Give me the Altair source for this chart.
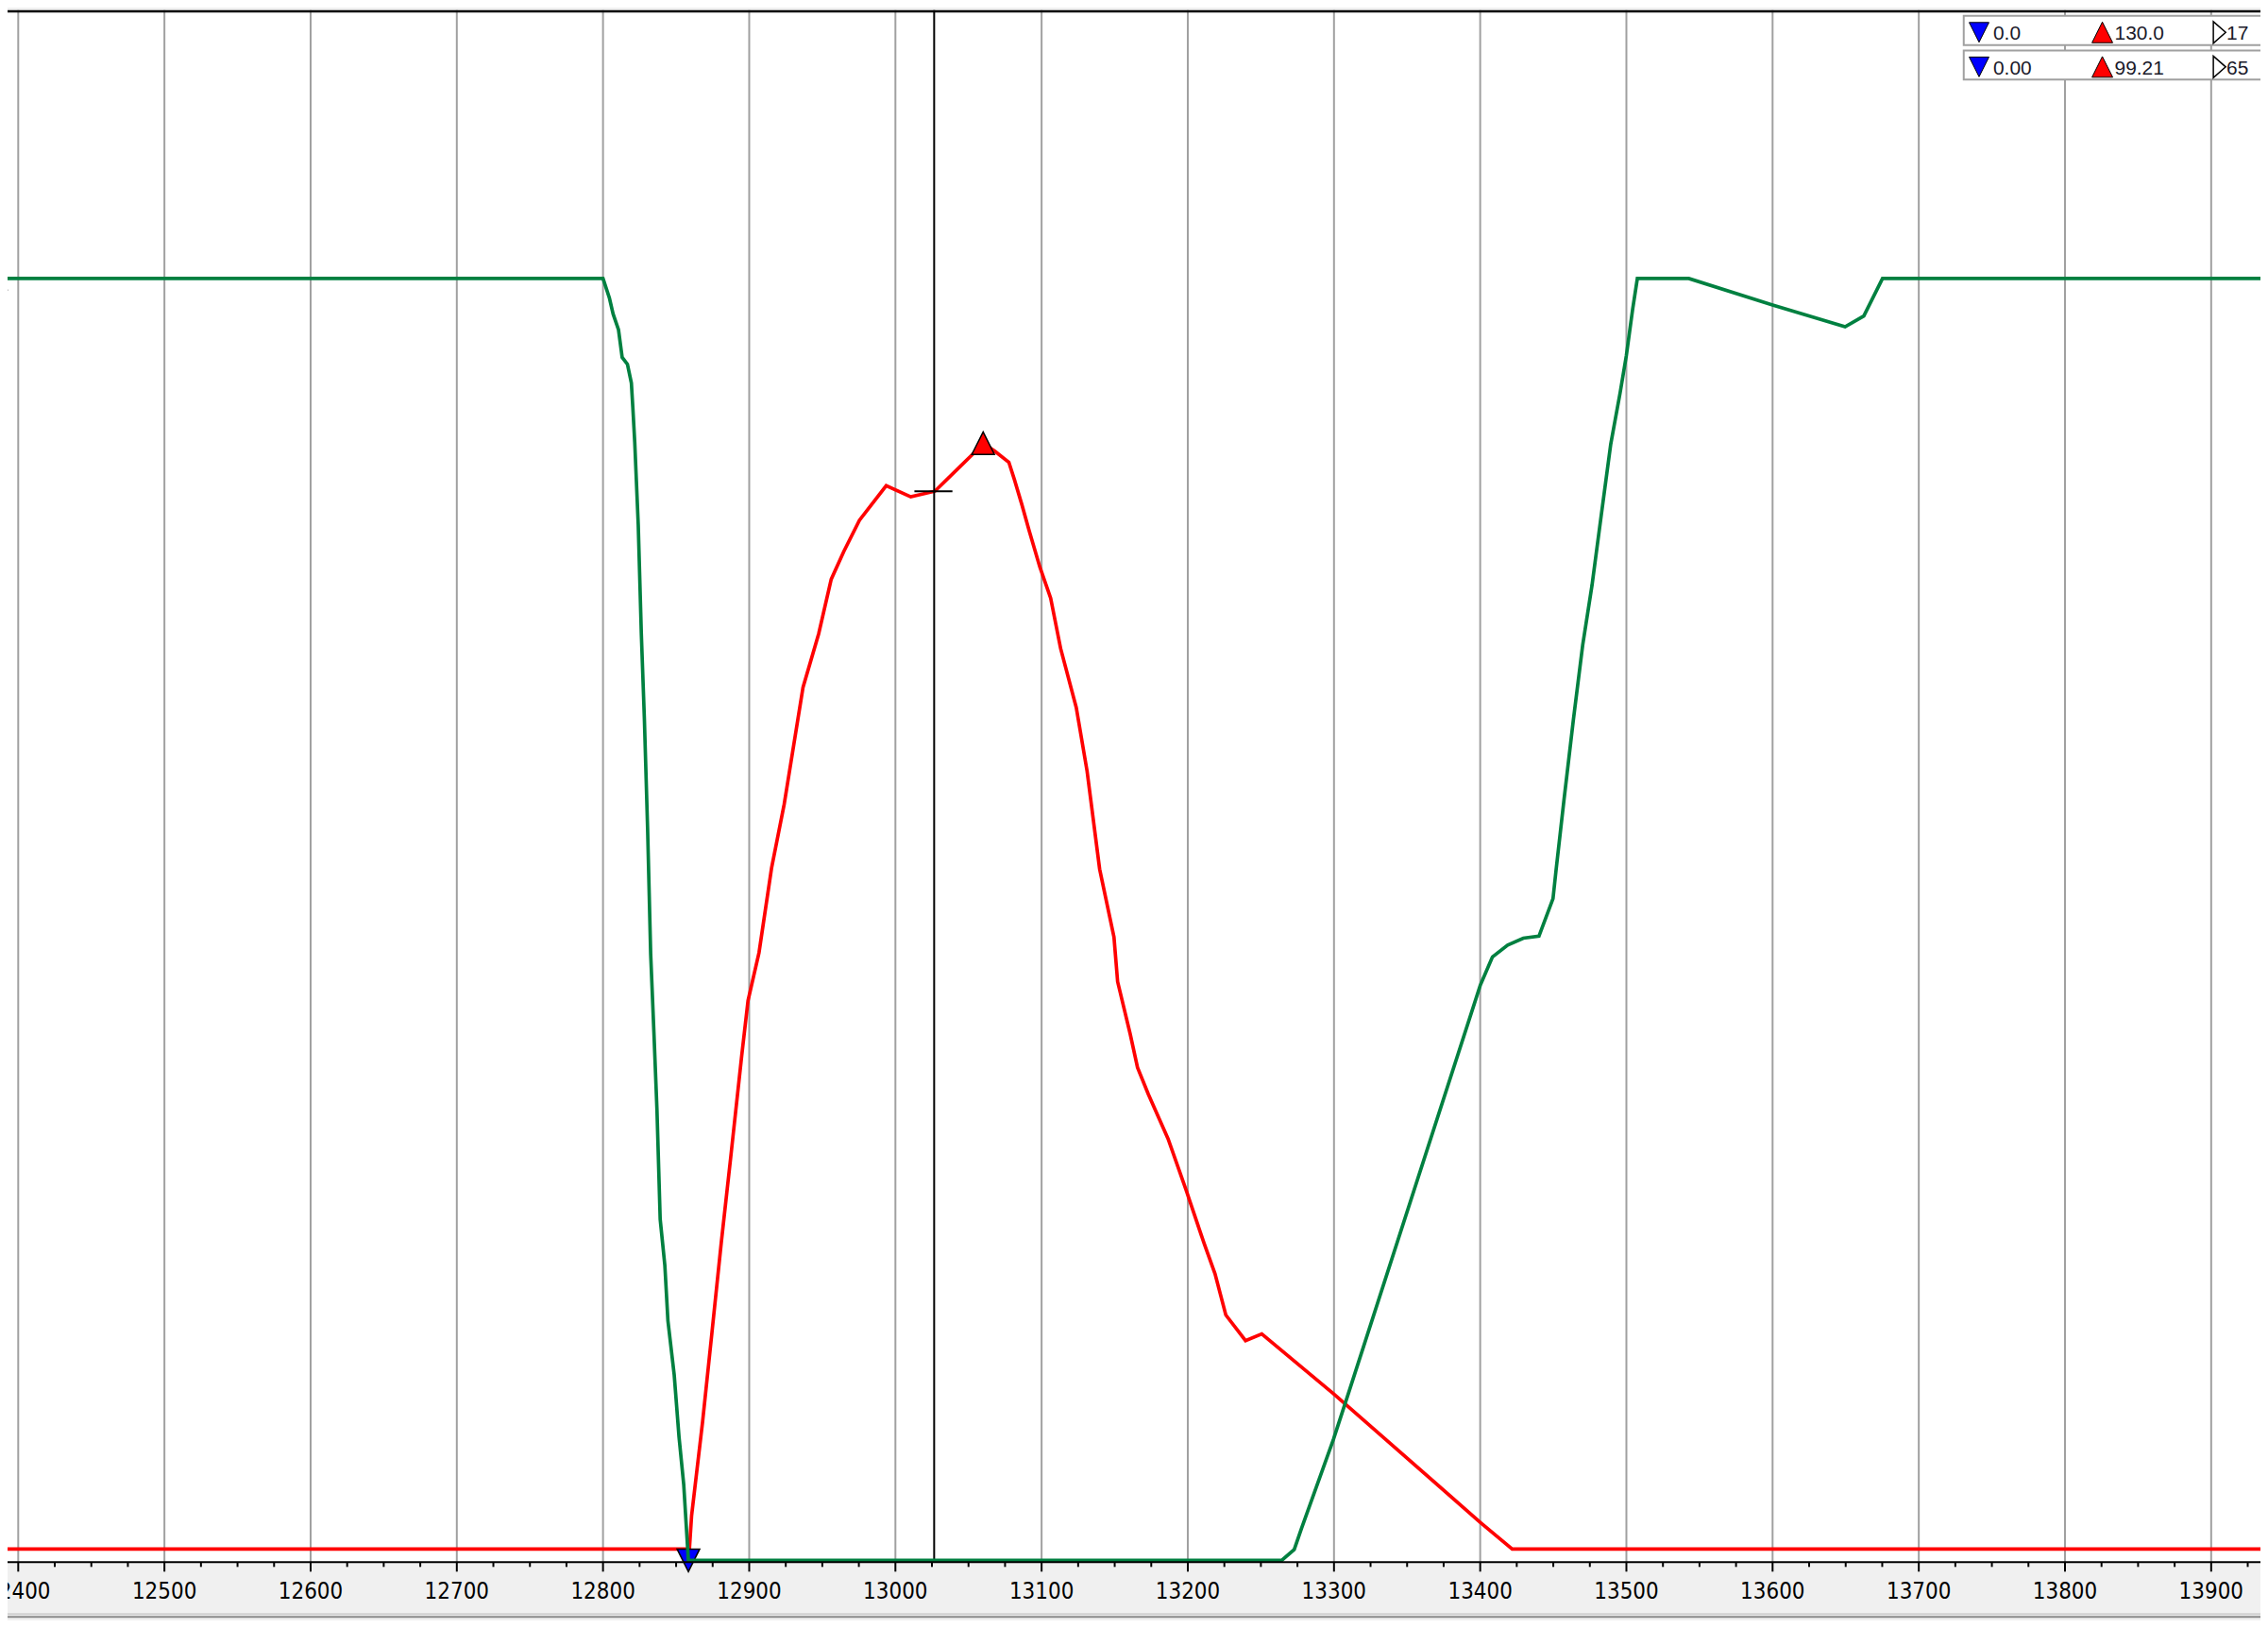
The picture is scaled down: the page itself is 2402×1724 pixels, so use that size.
import altair as alt
import pandas as pd

# ---------------- data ----------------
green_x = [12380, 12800, 12804.4, 12806.9, 12810.6, 12813.1, 12816.7, 12819.4, 12820.4,
           12821.7, 12824.1, 12826.2, 12828.3, 12830.5, 12832.6, 12834.8, 12836.9, 12839.1,
           12842.3, 12844.4, 12848.7, 12852.0, 12855.2, 12858.4, 13264.2, 13272.8, 13277.7,
           13299.7, 13309.8, 13400.0, 13408.4, 13418.8, 13429.5, 13440.2, 13449.8, 13451.9,
           13457.3, 13463.7, 13470.1, 13476.5, 13482.9, 13489.3, 13495.7, 13500.0, 13504.3,
           13507.5, 13542.7, 13600.0, 13649.6, 13662.4, 13675.2, 13940]
green_y = [130, 130, 128.0, 126.4, 124.8, 122.0, 121.3, 119.4, 116.9,
           113.4, 105.0, 94.0, 85.3, 74.2, 61.5, 53.6, 45.7, 34.6,
           29.9, 24.3, 18.8, 12.5, 7.7, 0, 0, 1.1, 3.2,
           12.3, 16.9, 58.3, 61.2, 62.4, 63.1, 63.3, 67.1, 70.0,
           77.1, 85.2, 92.8, 98.9, 106.1, 113.2, 118.4, 122.2, 126.9,
           130, 130, 127.3, 125.1, 126.2, 130, 130]

red_x = [12380, 12859.1, 12860.6, 12868.1, 12874.5, 12880.9, 12887.4, 12894.9, 12899.2,
         12906.7, 12915.3, 12923.9, 12936.8, 12947.5, 12956.1, 12964.7, 12975.4, 12993.7,
         13010.5, 13027.0, 13052.7, 13060.0, 13068.0, 13077.6, 13081.5, 13086.5, 13091.4,
         13098.8, 13106.2, 13113.0, 13123.7, 13131.1, 13139.7, 13149.5, 13152.0, 13160.6,
         13165.6, 13173.0, 13186.5, 13199.1, 13211.2, 13218.6, 13226.0, 13239.5, 13250.6,
         13300.0, 13400.0, 13421.9, 13940]
red_y = [0, 0, 3.0, 11.4, 19.4, 27.5, 35.2, 44.3, 49.2,
         53.5, 61.1, 66.8, 77.3, 82.1, 87.0, 89.5, 92.3, 95.4,
         94.4, 94.9, 98.2, 99.21, 98.5, 97.5, 95.9, 93.7, 91.4,
         88.1, 85.3, 80.8, 75.5, 69.8, 61.0, 54.9, 50.9, 46.2,
         43.2, 40.8, 36.8, 32.1, 27.4, 24.7, 21.0, 18.7, 19.3,
         13.9, 2.4, 0, 0]

# min / max markers
green_min = (12858.4, 0.0)
green_max = (12384.6, 130.0)
red_min = (12382.0, 0.0)
red_max = (13060.0, 99.21)

# cursor
cursor_x = 13026.5
cursor_value = 94.9
cursor_tick = [13013.0, 13039.0]

tick_values = list(range(12400, 14000, 100))
minor_values = [v for v in range(12400, 13950, 25) if v % 100 != 0]

legend_min = ["0.0", "0.00"]
legend_max = ["130.0", "99.21"]
legend_third = ["17", "65"]

# ---------------- layout ----------------
W, H = 2394, 1649
X_DOMAIN = [12392.7, 13933.7]
G_DOMAIN = [-0.191, 157.2]
R_DOMAIN = [-1.182, 138.05]

GREEN = "#008040"
RED = "#ff0000"
BLUE = "#0000ff"
LW = 3.7

xs = alt.Scale(domain=X_DOMAIN, nice=False, zero=False)
gys = alt.Scale(domain=G_DOMAIN, nice=False, zero=False)
rys = alt.Scale(domain=R_DOMAIN, nice=False, zero=False)


def X(field="t"):
    return alt.X(f"{field}:Q", scale=xs, axis=None)


UP = "M0,-1L1,1L-1,1Z"
DOWN = "M-1,-1L1,-1L0,1Z"
RIGHT = "M-0.57,-1L0.57,0L-0.57,1Z"

green_df = pd.DataFrame({"t": green_x, "v": green_y})
red_df = pd.DataFrame({"t": red_x, "v": red_y})
ticks_df = pd.DataFrame({"t": tick_values})
one = pd.DataFrame({"a": [0]})

# ---------------- axis drawn from the x scale ----------------
grid = alt.Chart(ticks_df).mark_rule(color="#a0a0a0", strokeWidth=2).encode(x=X())
domain_line = alt.Chart(one).mark_rule(color="black", strokeWidth=2).encode(
    x=alt.value(0), x2=alt.value(W), y=alt.value(H))
major_ticks = alt.Chart(ticks_df).mark_rule(color="black", strokeWidth=2).encode(
    x=X(), y=alt.value(H), y2=alt.value(H + 10))
minor_ticks = alt.Chart(pd.DataFrame({"t": minor_values})).mark_rule(
    color="black", strokeWidth=2).encode(x=X(), y=alt.value(H), y2=alt.value(H + 5))
tick_labels = alt.Chart(ticks_df).mark_text(
    align="center", baseline="alphabetic",
    font="Liberation Sans Narrow, DejaVu Sans Condensed, Liberation Sans",
    fontSize=24, color="#000000").encode(
    x=X(), y=alt.value(H + 39), text=alt.Text("t:Q", format="d"))

# ---------------- series ----------------
red_line = alt.Chart(red_df).mark_line(color=RED, strokeWidth=LW, clip=True).encode(
    x=X(), y=alt.Y("v:Q", scale=rys, axis=None))
green_line = alt.Chart(green_df).mark_line(color=GREEN, strokeWidth=LW, clip=True).encode(
    x=X(), y=alt.Y("v:Q", scale=gys, axis=None))

cursor_rule = alt.Chart(pd.DataFrame({"t": [cursor_x]})).mark_rule(
    color="black", strokeWidth=2).encode(x=X())
cursor_h = alt.Chart(pd.DataFrame({"t": [cursor_tick[0]], "t2": [cursor_tick[1]],
                                   "v": [cursor_value]})).mark_rule(
    color="black", strokeWidth=2).encode(
    x=X(), x2="t2:Q", y=alt.Y("v:Q", scale=rys, axis=None))


def marker(pt, yscale, shape, fill):
    df = pd.DataFrame({"t": [pt[0]], "v": [pt[1]]})
    return alt.Chart(df).mark_point(shape=shape, size=576, filled=True, fill=fill,
                                    fillOpacity=1, stroke="black", strokeWidth=1.5,
                                    strokeOpacity=1, opacity=1).encode(
        x=X(), y=alt.Y("v:Q", scale=yscale, axis=None))


m_red_max = marker(red_max, rys, UP, RED)
m_red_min = marker(red_min, rys, DOWN, BLUE)
m_green_max = marker(green_max, gys, UP, RED)
m_green_min = marker(green_min, gys, DOWN, BLUE)

top_line = alt.Chart(one).mark_rule(color="black", strokeWidth=2.5).encode(
    x=alt.value(0), x2=alt.value(W), y=alt.value(1.2))
bottom_light = alt.Chart(one).mark_rule(color="#d0d0d0", strokeWidth=2).encode(
    x=alt.value(0), x2=alt.value(W), y=alt.value(H + 55))
bottom_dark = alt.Chart(one).mark_rule(color="#8a8a8a", strokeWidth=2).encode(
    x=alt.value(0), x2=alt.value(W), y=alt.value(H + 58))

# ---------------- info panel (top right) ----------------
box_layers = []
for top in (6.0, 42.7):
    box_layers.append(alt.Chart(one).mark_rect(fill="white", stroke="#a0a0a0",
                                               strokeWidth=2).encode(
        x=alt.value(2078.7), x2=alt.value(2420), y=alt.value(top), y2=alt.value(top + 31)))

leg_df = pd.DataFrame({"row": [0, 1], "mn": legend_min, "mx": legend_max, "th": legend_third})
sym_y = alt.Y("row:Q", scale=alt.Scale(domain=[0, 1], range=[23.5, 60.2]), axis=None)
txt_y = alt.Y("row:Q", scale=alt.Scale(domain=[0, 1], range=[31.3, 68.0]), axis=None)

leg_down = alt.Chart(leg_df).mark_point(shape=DOWN, size=441, filled=True, fill=BLUE,
                                        fillOpacity=1, stroke="black", strokeWidth=1,
                                        opacity=1).encode(x=alt.value(2095), y=sym_y)
leg_up = alt.Chart(leg_df).mark_point(shape=UP, size=484, filled=True, fill=RED,
                                      fillOpacity=1, stroke="black", strokeWidth=1,
                                      opacity=1).encode(x=alt.value(2226), y=sym_y)
leg_right = alt.Chart(leg_df).mark_point(shape=RIGHT, size=529, filled=True, fill="white",
                                         fillOpacity=1, stroke="black", strokeWidth=1.5,
                                         opacity=1).encode(x=alt.value(2350.5), y=sym_y)

tkw = dict(align="left", baseline="alphabetic", font="Liberation Sans", fontSize=21,
           color="#1a1a2a")
leg_t1 = alt.Chart(leg_df).mark_text(**tkw).encode(x=alt.value(2110), y=txt_y, text="mn:N")
leg_t2 = alt.Chart(leg_df).mark_text(**tkw).encode(x=alt.value(2239), y=txt_y, text="mx:N")
leg_t3 = alt.Chart(leg_df).mark_text(**tkw).encode(x=alt.value(2358), y=txt_y, text="th:N")

chart = alt.layer(
    grid, red_line, cursor_rule, cursor_h,
    m_red_max, m_red_min, m_green_max, m_green_min,
    green_line, domain_line, major_ticks, minor_ticks, tick_labels,
    top_line, bottom_light, bottom_dark,
    *box_layers, leg_down, leg_up, leg_right, leg_t1, leg_t2, leg_t3,
).resolve_scale(y="independent").properties(
    width=W, height=H,
    autosize=alt.AutoSizeParams(type="none"),
    padding={"left": 0, "top": 0, "right": 0, "bottom": 59},
    background="#f0f0f0",
).configure_view(stroke=None, fill="white")

chart.save("out.html", embed_options={"renderer": "svg", "actions": False})
